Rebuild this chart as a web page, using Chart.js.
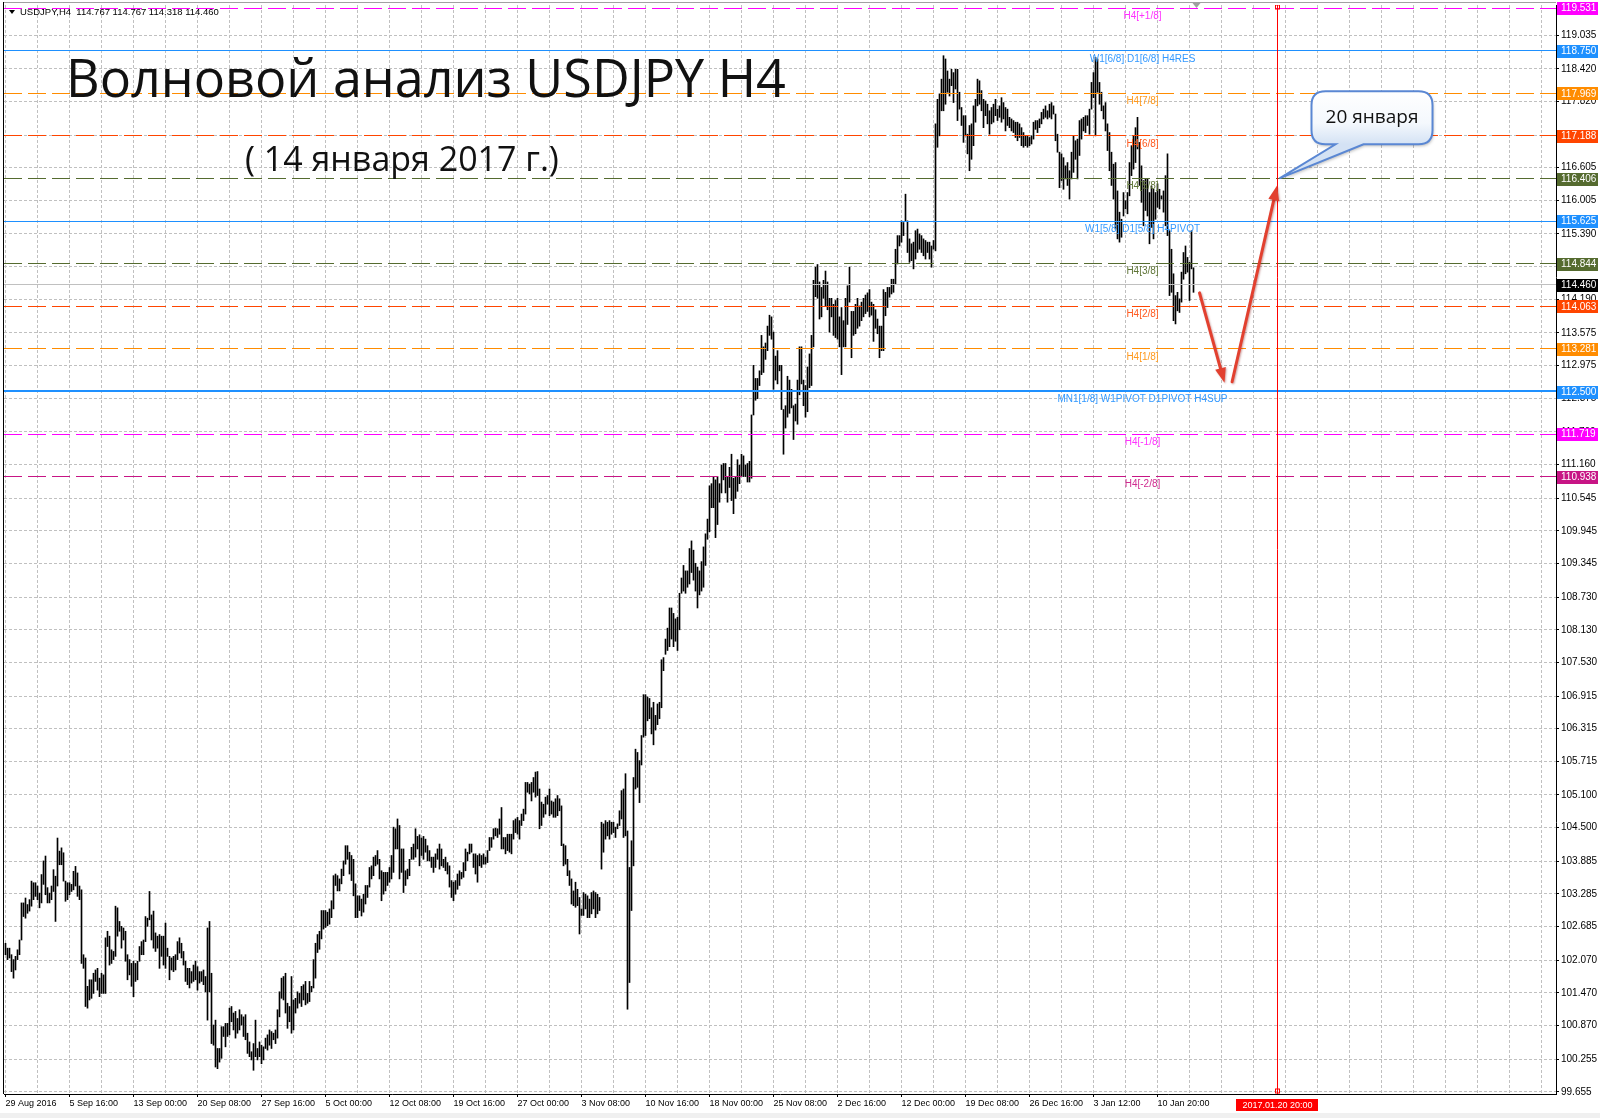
<!DOCTYPE html>
<html>
<head>
<meta charset="utf-8">
<title>Волновой анализ USDJPY H4</title>
<script src="https://cdn.jsdelivr.net/npm/chart.js@4.4.1/dist/chart.umd.min.js"></script>
<style>
   html, body { margin: 0; padding: 0; background: #ffffff; }
   #chart { display: block; }
</style>
</head>
<body>
<canvas id="chart" width="1600" height="1118"></canvas>
<script>
const symbolInfo = "USDJPY,H4  114.767 114.767 114.318 114.460";
const titleText = "Волновой анализ USDJPY H4";
const subtitleText = "( 14 января 2017 г.)";
const calloutText = "20 января";

// H4 bars, one per slot, starting 29 Aug 2016 00:00
const barHighs = [
   102.38, 102.29, 102.29, 102.17, 102.08, 102.14, 102.26, 102.44, 103.12, 103.12,
   103.21, 103.09, 103.18, 103.52, 103.49, 103.49, 103.43, 103.30, 103.64, 103.89,
   103.98, 103.40, 103.30, 103.43, 103.73, 103.61, 104.31, 104.07, 104.13, 104.04,
   103.52, 103.49, 103.49, 103.46, 103.70, 103.79, 103.67, 103.43, 103.36, 102.17,
   102.11, 101.59, 101.71, 101.71, 101.83, 101.89, 101.92, 101.74, 101.83, 101.80,
   102.48, 102.60, 102.51, 102.26, 102.23, 103.06, 103.03, 102.78, 102.69, 102.66,
   102.60, 102.17, 102.08, 102.01, 102.05, 102.01, 102.05, 102.32, 102.41, 102.44,
   102.87, 102.84, 103.33, 102.90, 102.97, 102.57, 102.51, 102.54, 102.51, 102.51,
   102.75, 102.29, 102.14, 102.11, 102.14, 102.17, 102.41, 102.48, 102.38, 102.23,
   102.05, 101.92, 101.92, 101.86, 101.98, 102.05, 101.95, 101.86, 101.86, 101.89,
   101.77, 102.66, 102.78, 101.83, 100.88, 100.97, 100.45, 100.45, 100.85, 100.85,
   100.91, 100.91, 101.19, 101.22, 101.10, 101.13, 101.00, 101.16, 101.07, 101.03,
   101.07, 100.73, 100.57, 100.39, 100.54, 100.97, 100.45, 100.57, 100.51, 100.48,
   100.64, 100.70, 100.79, 100.76, 100.73, 100.79, 101.16, 101.49, 101.74, 101.77,
   101.83, 101.28, 101.22, 101.77, 101.34, 101.37, 101.49, 101.46, 101.59, 101.62,
   101.68, 101.46, 101.68, 101.59, 102.08, 102.38, 102.54, 102.60, 102.98, 102.98,
   102.98, 102.95, 103.01, 103.16, 103.62, 103.65, 103.62, 103.56, 103.74, 103.89,
   104.17, 104.17, 104.05, 103.99, 103.92, 103.47, 103.25, 103.25, 103.19, 103.28,
   103.44, 103.44, 103.77, 103.80, 103.96, 103.99, 104.08, 103.92, 103.71, 103.68,
   103.68, 103.68, 103.77, 103.99, 104.51, 104.48, 104.66, 104.54, 104.11, 104.11,
   103.71, 103.74, 103.92, 104.14, 104.20, 104.48, 104.34, 104.37, 104.31, 104.34,
   104.29, 104.17, 104.08, 103.96, 103.96, 104.02, 104.11, 104.20, 104.11, 103.92,
   103.96, 103.86, 103.80, 103.53, 103.50, 103.53, 103.65, 103.71, 103.68, 103.86,
   104.11, 104.05, 104.20, 104.20, 104.02, 104.02, 103.99, 104.02, 103.99, 104.02,
   103.96, 104.08, 104.32, 104.32, 104.48, 104.49, 104.48, 104.66, 104.87, 104.32,
   104.32, 104.38, 104.38, 104.38, 104.63, 104.66, 104.69, 104.63, 104.75, 104.84,
   105.33, 105.33, 105.30, 105.33, 105.42, 105.52, 105.53, 105.21, 104.97, 104.93,
   105.06, 105.09, 105.21, 104.99, 104.97, 105.03, 105.09, 105.03, 104.90, 104.20,
   104.17, 103.92, 103.71, 103.56, 103.34, 103.50, 103.37, 103.22, 103.01, 103.31,
   103.28, 103.25, 103.19, 103.31, 103.34, 103.31, 103.28, 103.22, 104.60, 104.57,
   104.63, 104.60, 104.63, 104.60, 104.60, 104.51, 104.57, 104.81, 105.18, 105.21,
   105.49, 104.44, 103.77, 104.26, 105.42, 105.94, 105.88, 105.73, 106.19, 106.94,
   106.94, 106.90, 106.87, 106.70, 106.80, 106.56, 106.77, 106.80, 107.58, 107.62,
   107.96, 108.16, 108.53, 108.53, 108.43, 108.33, 108.36, 108.80, 109.08, 109.31,
   109.21, 109.21, 109.62, 109.76, 109.59, 109.35, 109.28, 109.21, 109.38, 109.65,
   109.89, 110.16, 110.77, 110.81, 110.94, 110.88, 110.94, 110.81, 111.15, 111.18,
   111.18, 110.94, 111.11, 111.35, 110.91, 110.94, 111.25, 111.15, 111.35, 111.32,
   111.15, 111.18, 111.22, 112.07, 112.98, 112.74, 112.74, 112.88, 113.53, 113.32,
   113.39, 113.70, 113.90, 113.87, 113.59, 113.15, 113.25, 112.98, 112.98, 112.17,
   112.24, 112.78, 112.71, 112.54, 112.24, 112.27, 112.71, 113.32, 113.32, 112.71,
   112.61, 112.95, 113.19, 113.53, 114.54, 114.78, 114.83, 114.51, 114.41, 114.54,
   114.71, 114.51, 114.21, 114.21, 114.10, 114.17, 114.21, 113.87, 114.04, 113.80,
   114.21, 114.44, 114.78, 113.97, 113.97, 114.10, 114.21, 114.07, 114.14, 114.21,
   114.27, 114.31, 114.37, 114.14, 114.10, 114.00, 113.83, 113.70, 113.70, 114.37,
   114.32, 114.41, 114.41, 114.56, 114.56, 115.11, 115.36, 115.36, 115.63, 115.60,
   116.12, 115.63, 115.30, 115.21, 115.24, 115.45, 115.48, 115.39, 115.36, 115.30,
   115.27, 115.24, 115.24, 115.17, 115.27, 117.41, 117.86, 117.96, 118.23, 118.66,
   118.60, 118.38, 118.23, 118.41, 118.35, 118.41, 118.41, 117.99, 117.71, 117.56,
   117.56, 117.22, 117.38, 117.41, 117.74, 117.86, 118.23, 118.20, 118.02, 117.86,
   117.83, 117.77, 117.65, 117.71, 117.77, 117.86, 117.68, 117.74, 117.89, 117.80,
   117.71, 117.68, 117.53, 117.50, 117.47, 117.44, 117.44, 117.41, 117.34, 117.25,
   117.19, 117.19, 117.16, 117.19, 117.44, 117.47, 117.47, 117.50, 117.62, 117.68,
   117.74, 117.65, 117.77, 117.80, 117.74, 117.59, 117.22, 116.89, 116.86, 116.79,
   116.64, 116.70, 116.55, 116.89, 117.19, 117.10, 117.13, 117.47, 117.50, 117.53,
   117.56, 117.56, 117.68, 118.17, 118.35, 118.63, 118.60, 118.17, 117.99, 117.74,
   117.80, 117.41, 117.25, 116.89, 116.67, 116.70, 116.18, 115.79, 115.66, 116.15,
   116.00, 116.15, 116.70, 117.01, 117.19, 117.34, 117.53, 117.07, 116.64, 116.37,
   116.40, 116.40, 116.15, 116.27, 116.21, 116.15, 116.31, 116.21, 116.09, 116.18,
   116.46, 116.86, 115.45, 115.11, 114.66, 114.26, 114.32, 114.20, 114.69, 115.05,
   115.17, 114.96, 114.87, 115.45, 114.77
];

const barLows = [
   102.17, 102.08, 102.11, 101.86, 101.74, 101.89, 102.08, 102.17, 102.44, 102.87,
   102.84, 102.93, 102.97, 103.06, 103.18, 103.24, 103.18, 103.03, 103.12, 103.46,
   103.27, 103.12, 103.12, 103.18, 103.33, 102.78, 103.43, 103.82, 103.82, 103.52,
   103.15, 103.18, 103.27, 103.33, 103.36, 103.43, 103.24, 103.18, 102.01, 101.92,
   101.22, 101.19, 101.34, 101.37, 101.46, 101.68, 101.52, 101.40, 101.46, 101.46,
   101.46, 102.32, 101.98, 102.01, 102.08, 102.14, 102.51, 102.60, 102.29, 102.44,
   102.05, 101.71, 101.80, 101.59, 101.40, 101.68, 101.71, 102.05, 102.17, 102.17,
   102.41, 102.69, 102.81, 102.44, 102.29, 102.23, 102.29, 101.92, 102.14, 101.98,
   101.92, 102.14, 101.71, 101.89, 101.86, 101.89, 102.08, 102.20, 102.11, 101.98,
   101.68, 101.62, 101.56, 101.65, 101.68, 101.71, 101.52, 101.65, 101.68, 101.62,
   101.49, 100.97, 101.49, 100.54, 100.51, 100.11, 100.08, 100.20, 100.27, 100.67,
   100.48, 100.67, 100.70, 100.94, 100.79, 100.64, 100.73, 100.79, 100.88, 100.67,
   100.61, 100.36, 100.30, 100.24, 100.05, 100.30, 100.24, 100.30, 100.17, 100.24,
   100.45, 100.42, 100.51, 100.45, 100.61, 100.54, 100.64, 101.03, 101.37, 101.34,
   101.10, 100.82, 100.94, 100.73, 100.79, 101.10, 101.19, 101.28, 101.22, 101.34,
   101.25, 101.28, 101.31, 101.49, 101.56, 101.74, 102.21, 102.27, 102.46, 102.64,
   102.67, 102.70, 102.73, 102.85, 103.01, 103.44, 103.34, 103.34, 103.47, 103.62,
   103.83, 103.92, 103.65, 103.53, 103.25, 102.85, 102.85, 102.98, 102.88, 102.95,
   103.10, 103.22, 103.41, 103.56, 103.62, 103.80, 103.83, 103.56, 103.16, 103.28,
   103.34, 103.44, 103.50, 103.56, 103.68, 104.11, 104.11, 103.56, 103.68, 103.31,
   103.44, 103.56, 103.62, 103.92, 103.92, 103.96, 104.11, 103.80, 103.99, 103.92,
   104.05, 103.89, 103.89, 103.77, 103.68, 103.77, 103.92, 103.74, 103.80, 103.77,
   103.71, 103.65, 103.41, 103.22, 103.16, 103.28, 103.37, 103.44, 103.56, 103.59,
   103.71, 103.89, 104.02, 104.05, 103.77, 103.65, 103.50, 103.80, 103.77, 103.83,
   103.83, 103.86, 104.08, 104.14, 104.29, 104.35, 104.32, 104.38, 104.11, 104.11,
   104.02, 104.08, 104.05, 104.02, 104.29, 104.41, 104.38, 104.29, 104.54, 104.63,
   104.75, 105.15, 105.12, 104.99, 105.15, 105.06, 105.09, 104.48, 104.54, 104.69,
   104.75, 104.93, 104.72, 104.75, 104.69, 104.69, 104.72, 104.81, 104.17, 103.80,
   103.83, 103.62, 103.44, 103.10, 103.07, 103.04, 103.07, 102.55, 102.89, 102.89,
   103.01, 102.85, 102.85, 102.92, 103.01, 102.85, 102.92, 102.98, 103.74, 104.05,
   104.29, 104.35, 104.29, 104.38, 104.41, 104.32, 104.48, 104.54, 104.66, 104.32,
   104.35, 101.17, 101.66, 102.98, 103.80, 105.21, 105.24, 104.96, 105.65, 106.16,
   106.19, 106.46, 106.50, 106.22, 106.02, 106.29, 106.39, 106.50, 106.70, 107.38,
   107.68, 107.75, 107.82, 107.96, 107.82, 107.92, 107.75, 108.13, 108.80, 108.84,
   108.80, 108.91, 108.97, 109.18, 109.04, 108.84, 108.53, 108.77, 108.84, 108.91,
   109.31, 109.79, 109.93, 110.37, 110.37, 109.82, 110.06, 110.47, 110.64, 110.88,
   110.64, 110.47, 110.74, 110.50, 110.26, 110.54, 110.67, 110.81, 110.94, 110.94,
   110.94, 110.84, 110.84, 110.91, 112.07, 112.34, 112.37, 112.61, 112.81, 112.85,
   113.09, 113.25, 113.53, 113.46, 112.54, 112.71, 112.64, 112.88, 112.17, 111.35,
   111.83, 112.03, 112.10, 112.20, 111.62, 111.96, 111.90, 112.44, 112.64, 112.24,
   112.03, 112.13, 112.57, 112.61, 113.32, 114.24, 114.21, 113.83, 113.87, 114.21,
   114.07, 114.00, 113.59, 113.87, 113.53, 113.49, 113.46, 113.32, 112.81, 113.32,
   113.32, 113.73, 114.14, 113.12, 113.53, 113.56, 113.66, 113.70, 113.80, 113.87,
   113.93, 113.97, 113.87, 113.90, 113.42, 113.66, 113.56, 113.12, 113.25, 113.25,
   113.89, 114.04, 114.23, 114.29, 114.32, 114.47, 114.84, 115.17, 115.24, 115.36,
   115.63, 115.05, 114.87, 114.90, 114.75, 114.93, 115.05, 115.11, 115.05, 114.99,
   114.93, 115.05, 114.93, 114.78, 115.11, 115.08, 116.98, 117.19, 117.65, 117.65,
   117.77, 117.99, 117.92, 118.11, 117.80, 118.05, 117.47, 117.68, 117.38, 117.07,
   117.19, 116.86, 116.55, 116.76, 117.01, 117.44, 117.74, 117.77, 117.65, 117.34,
   117.56, 117.41, 117.22, 117.41, 117.44, 117.56, 117.47, 117.53, 117.44, 117.50,
   117.28, 117.38, 117.34, 117.28, 117.25, 117.16, 117.10, 117.16, 117.01, 116.98,
   117.01, 116.98, 117.01, 117.04, 117.13, 117.31, 117.25, 117.34, 117.41, 117.50,
   117.53, 117.50, 117.53, 117.50, 117.59, 117.10, 116.89, 116.24, 116.37, 116.21,
   116.40, 116.28, 116.03, 116.40, 116.52, 116.76, 116.40, 116.83, 117.13, 117.28,
   117.25, 117.38, 117.22, 117.68, 117.89, 117.19, 117.99, 117.77, 117.65, 117.50,
   117.28, 116.92, 116.55, 116.28, 116.03, 115.48, 115.30, 115.24, 115.33, 115.72,
   115.85, 115.76, 116.09, 116.46, 116.58, 116.70, 116.95, 116.28, 115.97, 115.54,
   115.82, 115.72, 115.21, 115.51, 115.30, 115.66, 115.88, 115.85, 116.03, 115.79,
   115.54, 115.36, 114.26, 114.32, 113.80, 113.74, 113.98, 113.95, 114.14, 114.56,
   114.66, 114.69, 114.17, 114.75, 114.32
];

// time axis: a label every 32 bars, a grid line every 16
const dateLabels = [
   "29 Aug 2016", "5 Sep 16:00", "13 Sep 00:00", "20 Sep 08:00", "27 Sep 16:00",
   "5 Oct 00:00", "12 Oct 08:00", "19 Oct 16:00", "27 Oct 00:00", "3 Nov 08:00",
   "10 Nov 16:00", "18 Nov 00:00", "25 Nov 08:00", "2 Dec 16:00", "12 Dec 00:00",
   "19 Dec 08:00", "26 Dec 16:00", "3 Jan 12:00", "10 Jan 20:00"
];
const barsPerLabel = 32;
const barsPerGrid = 16;
const totalSlots = 776;
const futureBar = 636;
const futureDateLabel = "2017.01.20 20:00";

const priceTicks = [
   119.035, 118.420, 117.820, 117.205, 116.605, 116.005, 115.390, 114.790, 114.190,
   113.575, 112.975, 112.375, 111.760, 111.160, 110.545, 109.945, 109.345, 108.730,
   108.130, 107.530, 106.915, 106.315, 105.715, 105.100, 104.500, 103.885, 103.285,
   102.685, 102.070, 101.470, 100.870, 100.255, 99.655
];
const priceMin = 99.615;
const priceMax = 119.59;

// Murrey levels
const levelPrices = [119.531, 118.750, 117.969, 117.188, 116.406, 115.625, 114.844, 114.063, 113.281, 112.500, 111.719, 110.938];
const levelNames = [
   "H4[+1/8]", "W1[6/8] D1[6/8] H4RES", "H4[7/8]", "H4[6/8]", "H4[5/8]",
   "W1[5/8] D1[5/8] H4PIVOT", "H4[3/8]", "H4[2/8]", "H4[1/8]",
   "MN1[1/8] W1PIVOT D1PIVOT H4SUP", "H4[-1/8]", "H4[-2/8]"
];
const levelLabelBar = 568.5;
const bidPrice = 114.460;

// forecast arrows: [bar, price] pairs
const arrowDownBars = [597, 609.5];
const arrowDownPrices = [114.31, 112.66];
const arrowUpBars = [613.3, 635.8];
const arrowUpPrices = [112.68, 116.28];
const calloutBar = 637;
const calloutPrice = 116.41;

// styles
const levelColors = ["#ff00ff", "#1e90ff", "#ff8c00", "#ff4500", "#556b2f", "#1e90ff", "#556b2f", "#ff4500", "#ff8c00", "#1e90ff", "#ff00ff", "#c71585"];
const levelTextColors = ["#ff33ff", "#3399ff", "#ff9a1f", "#ff5a1f", "#5e7436", "#3399ff", "#5e7436", "#ff5a1f", "#ff9a1f", "#3399ff", "#ff33ff", "#d02c90"];
const levelWidths = [1, 1, 1, 1, 1, 1, 1, 1, 1, 2, 1, 1];
const levelDashed = [true, false, true, true, true, false, true, true, true, false, true, true];

const axisFont = "'Liberation Sans', Arial, sans-serif";
const handFont = "'Open Sans', 'Noto Sans', sans-serif";

function strokeLine(ctx, x1, y1, x2, y2) {
   ctx.beginPath();
   ctx.moveTo(x1, y1);
   ctx.lineTo(x2, y2);
   ctx.stroke();
}

function drawArrow(ctx, x1, y1, x2, y2) {
   const angle = Math.atan2(y2 - y1, x2 - x1);
   const headLen = 15;
   const headHalf = 5.5;
   const bx = x2 - headLen * Math.cos(angle);
   const by = y2 - headLen * Math.sin(angle);

   ctx.save();
   ctx.strokeStyle = "#e2402f";
   ctx.fillStyle = "#e2402f";
   ctx.lineWidth = 3;
   ctx.lineCap = "round";
   ctx.shadowColor = "rgba(120, 0, 0, 0.35)";
   ctx.shadowBlur = 2;
   ctx.shadowOffsetX = 1;
   ctx.shadowOffsetY = 1;
   strokeLine(ctx, x1, y1, bx, by);
   ctx.beginPath();
   ctx.moveTo(x2, y2);
   ctx.lineTo(bx + headHalf * Math.sin(angle), by - headHalf * Math.cos(angle));
   ctx.lineTo(bx - headHalf * Math.sin(angle), by + headHalf * Math.cos(angle));
   ctx.closePath();
   ctx.fill();
   ctx.restore();
}

function fitFontSize(ctx, text, family, targetWidth) {
   ctx.font = `100px ${family}`;
   return 100 * targetWidth / ctx.measureText(text).width;
}

function drawCallout(ctx, tipX, tipY) {
   const left = tipX + 32;
   const right = tipX + 153;
   const top = tipY - 87;
   const bottom = tipY - 34;
   const r = 14;
   const tailLeft = left + 24;
   const tailRight = left + 52;

   ctx.save();
   ctx.beginPath();
   ctx.moveTo(left + r, top);
   ctx.lineTo(right - r, top);
   ctx.quadraticCurveTo(right, top, right, top + r);
   ctx.lineTo(right, bottom - r);
   ctx.quadraticCurveTo(right, bottom, right - r, bottom);
   ctx.lineTo(tailRight, bottom);
   ctx.lineTo(tipX, tipY);
   ctx.lineTo(tailLeft, bottom);
   ctx.lineTo(left + r, bottom);
   ctx.quadraticCurveTo(left, bottom, left, bottom - r);
   ctx.lineTo(left, top + r);
   ctx.quadraticCurveTo(left, top, left + r, top);
   ctx.closePath();

   const grad = ctx.createLinearGradient(0, top, 0, bottom);
   grad.addColorStop(0, "#ffffff");
   grad.addColorStop(0.6, "#f4f8fd");
   grad.addColorStop(1, "#d4e2f4");
   ctx.shadowColor = "rgba(0, 0, 0, 0.25)";
   ctx.shadowBlur = 3;
   ctx.shadowOffsetX = 1;
   ctx.shadowOffsetY = 2;
   ctx.fillStyle = grad;
   ctx.fill();
   ctx.shadowColor = "transparent";
   ctx.strokeStyle = "#5a87d3";
   ctx.lineWidth = 2;
   ctx.stroke();

   ctx.fillStyle = "#111111";
   ctx.font = `19px ${handFont}`;
   ctx.textAlign = "center";
   ctx.textBaseline = "middle";
   ctx.fillText(calloutText, (left + right) / 2, (top + bottom) / 2);
   ctx.restore();
}

const overlayPlugin = {
   id: "overlay",
   afterDatasetsDraw(chart) {
      const { ctx, chartArea: area, scales: { x, y } } = chart;
      ctx.save();
      ctx.beginPath();
      ctx.rect(area.left, area.top, area.right - area.left, area.bottom - area.top);
      ctx.clip();

      // bid line
      ctx.strokeStyle = "#c0c0c0";
      ctx.lineWidth = 1;
      const bidY = Math.floor(y.getPixelForValue(bidPrice)) + 0.5;
      strokeLine(ctx, area.left, bidY, area.right, bidY);

      levelPrices.forEach((price, i) => {
         const w = levelWidths[i];
         const py = Math.floor(y.getPixelForValue(price)) + (w % 2 ? 0.5 : 0);
         ctx.strokeStyle = levelColors[i];
         ctx.lineWidth = w;
         ctx.setLineDash(levelDashed[i] ? [18, 6] : []);
         strokeLine(ctx, area.left, py, area.right, py);
      });
      ctx.setLineDash([]);

      ctx.font = `10px ${axisFont}`;
      ctx.textAlign = "center";
      ctx.textBaseline = "middle";
      const lx = x.getPixelForValue(levelLabelBar);
      levelPrices.forEach((price, i) => {
         ctx.fillStyle = levelTextColors[i];
         ctx.fillText(levelNames[i], lx, y.getPixelForValue(price) + 8);
      });

      // target date line
      const fx = Math.floor(x.getPixelForValue(futureBar)) + 0.5;
      ctx.strokeStyle = "#ff0000";
      ctx.lineWidth = 1;
      strokeLine(ctx, fx, area.top, fx, area.bottom);
      ctx.strokeRect(fx - 2, area.top, 4, 4);
      ctx.strokeRect(fx - 2, area.bottom - 5, 4, 4);

      drawArrow(ctx,
         x.getPixelForValue(arrowDownBars[0]), y.getPixelForValue(arrowDownPrices[0]),
         x.getPixelForValue(arrowDownBars[1]), y.getPixelForValue(arrowDownPrices[1]));
      drawArrow(ctx,
         x.getPixelForValue(arrowUpBars[0]), y.getPixelForValue(arrowUpPrices[0]),
         x.getPixelForValue(arrowUpBars[1]), y.getPixelForValue(arrowUpPrices[1]));

      ctx.restore();
   },
   afterDraw(chart) {
      const { ctx, chartArea: area, scales: { x, y } } = chart;
      const W = chart.width;
      const H = chart.height;
      ctx.save();

      // price boxes on the axis
      ctx.font = `10px ${axisFont}`;
      ctx.textAlign = "left";
      ctx.textBaseline = "middle";
      const boxLeft = area.right + 1;
      const boxWidth = W - 2 - boxLeft;
      levelPrices.forEach((price, i) => {
         const py = y.getPixelForValue(price);
         ctx.fillStyle = levelColors[i];
         ctx.fillRect(boxLeft, Math.round(py) - 6, boxWidth, 13);
         ctx.fillStyle = "#ffffff";
         ctx.fillText(price.toFixed(3), boxLeft + 4, py + 0.5);
      });
      const bidPy = y.getPixelForValue(bidPrice);
      ctx.fillStyle = "#000000";
      ctx.fillRect(boxLeft, Math.round(bidPy) - 6, boxWidth, 13);
      ctx.fillStyle = "#ffffff";
      ctx.fillText(bidPrice.toFixed(3), boxLeft + 4, bidPy + 0.5);

      // target date label
      const fx = Math.floor(x.getPixelForValue(futureBar)) + 0.5;
      ctx.font = `9px ${axisFont}`;
      ctx.textAlign = "center";
      const dw = ctx.measureText(futureDateLabel).width + 12;
      ctx.fillStyle = "#ff0000";
      ctx.fillRect(Math.round(fx - dw / 2), area.bottom + 5, Math.round(dw), 12);
      ctx.fillStyle = "#ffffff";
      ctx.fillText(futureDateLabel, fx, area.bottom + 11.5);

      // frame
      ctx.fillStyle = "#f0f0f0";
      ctx.fillRect(0, H - 5, W, 5);
      ctx.strokeStyle = "#000000";
      ctx.lineWidth = 1;
      strokeLine(ctx, area.left - 0.5, 2, area.left - 0.5, area.bottom);
      ctx.strokeStyle = "#a0a0a0";
      strokeLine(ctx, area.left, 2.5, area.right, 2.5);

      // chart shift marker
      const sx = x.getPixelForValue(595.5);
      ctx.fillStyle = "#a0a0a0";
      ctx.beginPath();
      ctx.moveTo(sx - 4, 3);
      ctx.lineTo(sx + 4, 3);
      ctx.lineTo(sx, 8);
      ctx.closePath();
      ctx.fill();

      // symbol line
      ctx.fillStyle = "#000000";
      ctx.beginPath();
      ctx.moveTo(9, 10);
      ctx.lineTo(15, 10);
      ctx.lineTo(12, 14);
      ctx.closePath();
      ctx.fill();
      ctx.font = `9.5px ${axisFont}`;
      ctx.textAlign = "left";
      ctx.fillText(symbolInfo, 20, 12.5);

      // titles
      ctx.textBaseline = "alphabetic";
      ctx.fillStyle = "#111111";
      const titleSize = fitFontSize(ctx, titleText, handFont, 720);
      ctx.font = `${titleSize}px ${handFont}`;
      ctx.fillText(titleText, 66, 97);
      const subSize = fitFontSize(ctx, subtitleText, handFont, 314);
      ctx.font = `${subSize}px ${handFont}`;
      ctx.fillText(subtitleText, 245, 171);

      drawCallout(ctx, x.getPixelForValue(calloutBar), y.getPixelForValue(calloutPrice));

      ctx.restore();
   }
};

const barPoints = barHighs.map((high, i) => ({ x: i, y: [barLows[i], high] }));

new Chart(document.getElementById("chart"), {
   type: "bar",
   data: {
      datasets: [
         {
            data: barPoints,
            backgroundColor: "#000000",
            borderWidth: 0,
            barThickness: 1
         }
      ]
   },
   options: {
      responsive: false,
      animation: false,
      devicePixelRatio: 1,
      layout: {
         padding: { left: 4, top: 5, right: 0, bottom: 0 }
      },
      plugins: {
         legend: { display: false },
         tooltip: { enabled: false }
      },
      scales: {
         x: {
            type: "linear",
            position: "bottom",
            min: -0.75,
            max: totalSlots - 0.75,
            offset: false,
            afterBuildTicks(scale) {
               const ticks = [];
               for (let v = 0; v < totalSlots; v += barsPerGrid) ticks.push({ value: v });
               scale.ticks = ticks;
            },
            afterFit(scale) {
               scale.height = 24;
               scale.paddingLeft = 0;
               scale.paddingRight = 0;
            },
            ticks: {
               autoSkip: false,
               maxRotation: 0,
               minRotation: 0,
               align: "start",
               padding: 1,
               color: "#000000",
               font: { family: "Liberation Sans", size: 9 },
               callback(value) {
                  if (value % barsPerLabel !== 0) return "";
                  return dateLabels[value / barsPerLabel] ?? "";
               }
            },
            grid: {
               offset: false,
               color: "#c0c0c0",
               lineWidth: 1,
               drawTicks: true,
               tickLength: 3,
               tickBorderDash: [],
               tickColor(context) {
                  const v = context.tick ? context.tick.value : 1;
                  return v % barsPerLabel === 0 && v / barsPerLabel < dateLabels.length ? "#000000" : "rgba(0,0,0,0)";
               }
            },
            border: { display: true, color: "#000000", width: 1, dash: [3, 2] }
         },
         y: {
            type: "linear",
            position: "right",
            min: priceMin,
            max: priceMax,
            beginAtZero: false,
            afterBuildTicks(scale) {
               scale.ticks = priceTicks.map((v) => ({ value: v }));
            },
            afterFit(scale) {
               scale.width = 44;
               scale.paddingTop = 0;
               scale.paddingBottom = 0;
            },
            ticks: {
               padding: 2,
               color: "#000000",
               font: { family: "Liberation Sans", size: 10 },
               callback(value) {
                  return Number(value).toFixed(3);
               }
            },
            grid: {
               color: "#c0c0c0",
               lineWidth: 1,
               drawTicks: true,
               tickLength: 3,
               tickColor: "#000000",
               tickBorderDash: []
            },
            border: { display: true, color: "#000000", width: 1, dash: [3, 2] }
         }
      }
   },
   plugins: [overlayPlugin]
});
</script>
</body>
</html>
